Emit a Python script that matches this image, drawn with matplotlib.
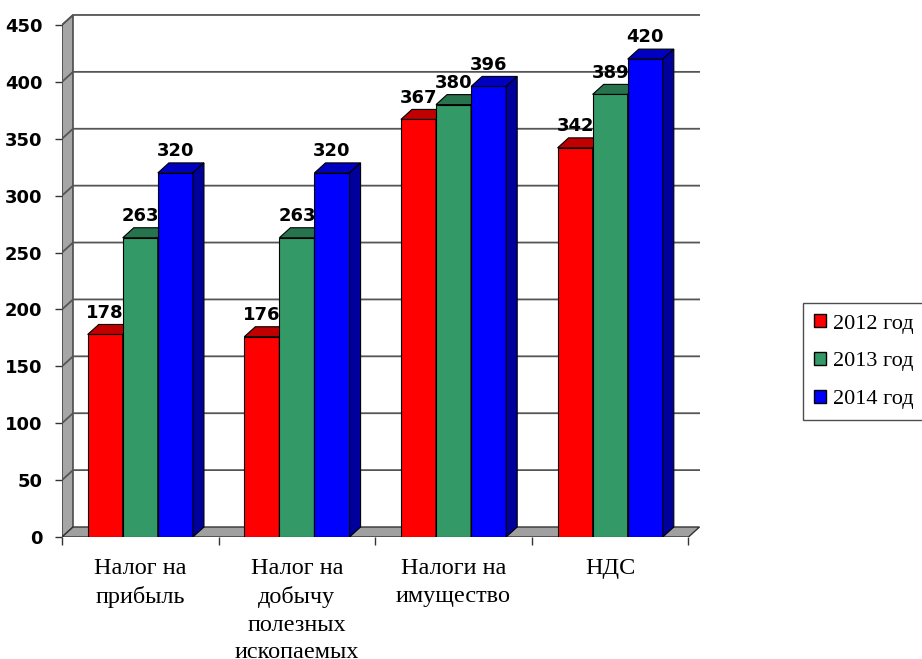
import matplotlib.pyplot as plt
from matplotlib.patches import Polygon, Patch

# Налоговые поступления по годам
categories = ['Налог на\nприбыль', 'Налог на\nдобычу\nполезных\nископаемых',
              'Налоги на\nимущество', 'НДС']
years = ['2012 год', '2013 год', '2014 год']
v2012 = [178, 176, 367, 342]
v2013 = [263, 263, 380, 389]
v2014 = [320, 320, 396, 420]
yticks = [0, 50, 100, 150, 200, 250, 300, 350, 400, 450]

series = [v2012, v2013, v2014]
front_col = ['#FF0000', '#339966', '#0000FF']
top_col = ['#C00000', '#26734D', '#0000C0']
side_col = ['#A00000', '#1E5C3D', '#00009C']

fig = plt.figure(figsize=(9.22, 6.59), dpi=100)
W, H = 922, 659
ax = fig.add_axes([62 / W, (H - 537) / H, 637.5 / W, 523.4 / H])

ymax = 460
dx = 11 / 156.25          # глубина по x (в долях категории)
dy = 10 / (523.4 / ymax)  # глубина по y (в единицах значений)
n = len(categories)
ax.set_xlim(0, n + dx)
ax.set_ylim(0, ymax)
for s in ax.spines.values():
    s.set_visible(False)

# стенка слева и пол
ax.add_patch(Polygon([(0, 0), (0, 450), (dx, 450 + dy), (dx, dy)],
                     closed=True, facecolor='#A6A6A6', edgecolor='#333333', lw=1, zorder=1))
ax.add_patch(Polygon([(0, 0), (n, 0), (n + dx, dy), (dx, dy)],
                     closed=True, facecolor='#A0A0A0', edgecolor='#333333', lw=1, zorder=1))

# линии сетки
for v in yticks[1:]:
    ax.plot([0, dx, n + dx], [v, v + dy, v + dy], color='#555555', lw=1.3, zorder=1.5)

# объёмные столбцы
w = 35 / 156.25
for i in range(n):
    for j, vals in enumerate(series):
        x0 = i + 0.5 + (j - 1.5) * w
        x1 = x0 + w
        v = vals[i]
        z = 2 + j * 0.1
        ax.add_patch(Polygon([(x0, 0), (x1, 0), (x1, v), (x0, v)], closed=True,
                             facecolor=front_col[j], edgecolor='black', lw=0.8, zorder=z))
        ax.add_patch(Polygon([(x0, v), (x1, v), (x1 + dx, v + dy), (x0 + dx, v + dy)], closed=True,
                             facecolor=top_col[j], edgecolor='black', lw=0.8, zorder=z))
        ax.add_patch(Polygon([(x1, 0), (x1 + dx, dy), (x1 + dx, v + dy), (x1, v)], closed=True,
                             facecolor=side_col[j], edgecolor='black', lw=0.8, zorder=z))
        ax.annotate(str(v), (x0 + w / 2, v + dy), xytext=(0, 2), textcoords='offset points',
                    ha='center', va='bottom', fontsize=13, fontweight='bold',
                    family='DejaVu Sans', zorder=5)

# оси
ax.set_yticks(yticks)
ax.set_yticklabels([str(t) for t in yticks], fontsize=13, fontweight='bold', family='DejaVu Sans')
ax.tick_params(axis='y', direction='out', length=5, width=1, color='#333333', pad=9)
ax.set_xticks(range(n + 1))
ax.set_xticklabels([])
ax.tick_params(axis='x', which='major', direction='out', length=6, width=1, color='#333333')
ax.set_xticks([i + 0.5 for i in range(n)], minor=True)
ax.set_xticklabels(categories, minor=True, fontsize=17.5, family='Liberation Serif', linespacing=1.42)
ax.tick_params(axis='x', which='minor', length=0, pad=15)

handles = [Patch(facecolor=c, edgecolor='black') for c in front_col]
leg = fig.legend(handles, years, loc='upper left', bbox_to_anchor=(803 / W, 1 - 303 / H),
                 prop={'family': 'Liberation Serif', 'size': 16}, frameon=True, fancybox=False,
                 borderaxespad=0, borderpad=0.5, labelspacing=0.82, handlelength=0.55,
                 handleheight=0.55, handletextpad=0.3)
leg.get_frame().set_edgecolor('#222222')
leg.get_frame().set_linewidth(1)

fig.savefig('out.png', dpi=100)
